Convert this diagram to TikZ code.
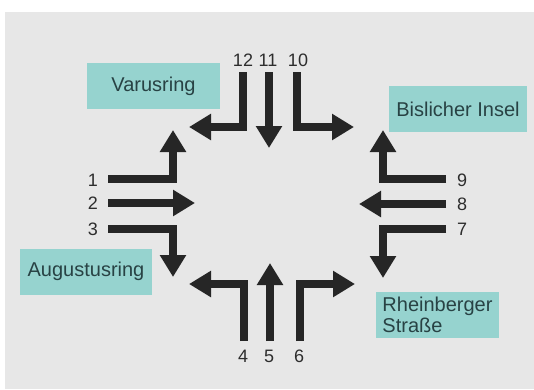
\documentclass[tikz,border=0pt]{standalone}
\usepackage{fontspec}
\setmainfont{Liberation Sans}
\usetikzlibrary{arrows.meta}
\definecolor{panel}{RGB}{231,231,231}
\definecolor{boxteal}{RGB}{150,211,207}
\definecolor{boxtext}{RGB}{40,66,68}
\definecolor{numtext}{RGB}{45,45,45}
\begin{document}
\begin{tikzpicture}[x=1pt, y=-1pt,
        street/.style={fill=boxteal, text=boxtext, minimum height=46pt, inner sep=0pt, font=\fontsize{20}{21}\selectfont},
        num/.style={text=numtext, inner sep=0pt, font=\fontsize{18}{19}\selectfont},
        lane/.style={line width=8pt, color=black!85, -{Triangle[width=25pt, length=22pt]}}]
        \useasboundingbox (0, 0) rectangle (534, 389);
        \fill[panel] (5, 12) rectangle (534, 389);

        \node[street, minimum width=133pt] at (153.5, 86)(var){Varusring};
        \node[street, minimum width=138pt] at (458, 109)(bis){Bislicher Insel};
        \node[street, minimum width=132pt] at (86, 271.5)(aug){Augustusring};
        \node[street, minimum width=123pt, align=left] at (437.5, 315)(rhe){Rheinberger\\Straße};

        \node[num] at (93, 180)(n1){1};
        \node[num] at (93, 203)(n2){2};
        \node[num] at (93, 229)(n3){3};
        \node[num] at (243, 356)(n4){4};
        \node[num] at (269, 356)(n5){5};
        \node[num] at (299, 356)(n6){6};
        \node[num] at (462, 229)(n7){7};
        \node[num] at (462, 204)(n8){8};
        \node[num] at (462, 180)(n9){9};
        \node[num] at (298, 60)(n10){10};
        \node[num] at (268, 60)(n11){11};
        \node[num] at (243, 60)(n12){12};

        \coordinate (s1) at (108, 179);  \coordinate (t1) at (173, 130);
        \coordinate (s2) at (108, 203);  \coordinate (t2) at (195, 203);
        \coordinate (s3) at (108, 229);  \coordinate (t3) at (173, 277);
        \coordinate (s4) at (244, 341);  \coordinate (t4) at (189, 284);
        \coordinate (s5) at (270, 341);  \coordinate (t5) at (270, 263);
        \coordinate (s6) at (300, 341);  \coordinate (t6) at (355, 284);
        \coordinate (s7) at (446, 229);  \coordinate (t7) at (383, 278);
        \coordinate (s8) at (446, 204);  \coordinate (t8) at (359, 204);
        \coordinate (s9) at (446, 179);  \coordinate (t9) at (383, 130);
        \coordinate (s10) at (297, 72);  \coordinate (t10) at (354, 127);
        \coordinate (s11) at (269, 72);  \coordinate (t11) at (269, 148);
        \coordinate (s12) at (243, 72);  \coordinate (t12) at (189, 127);

        \draw[lane] (s1) -| (t1);
        \draw[lane] (s2) -- (t2);
        \draw[lane] (s3) -| (t3);
        \draw[lane] (s4) |- (t4);
        \draw[lane] (s5) -- (t5);
        \draw[lane] (s6) |- (t6);
        \draw[lane] (s7) -| (t7);
        \draw[lane] (s8) -- (t8);
        \draw[lane] (s9) -| (t9);
        \draw[lane] (s10) |- (t10);
        \draw[lane] (s11) -- (t11);
        \draw[lane] (s12) |- (t12);
    \end{tikzpicture}
\end{document}
